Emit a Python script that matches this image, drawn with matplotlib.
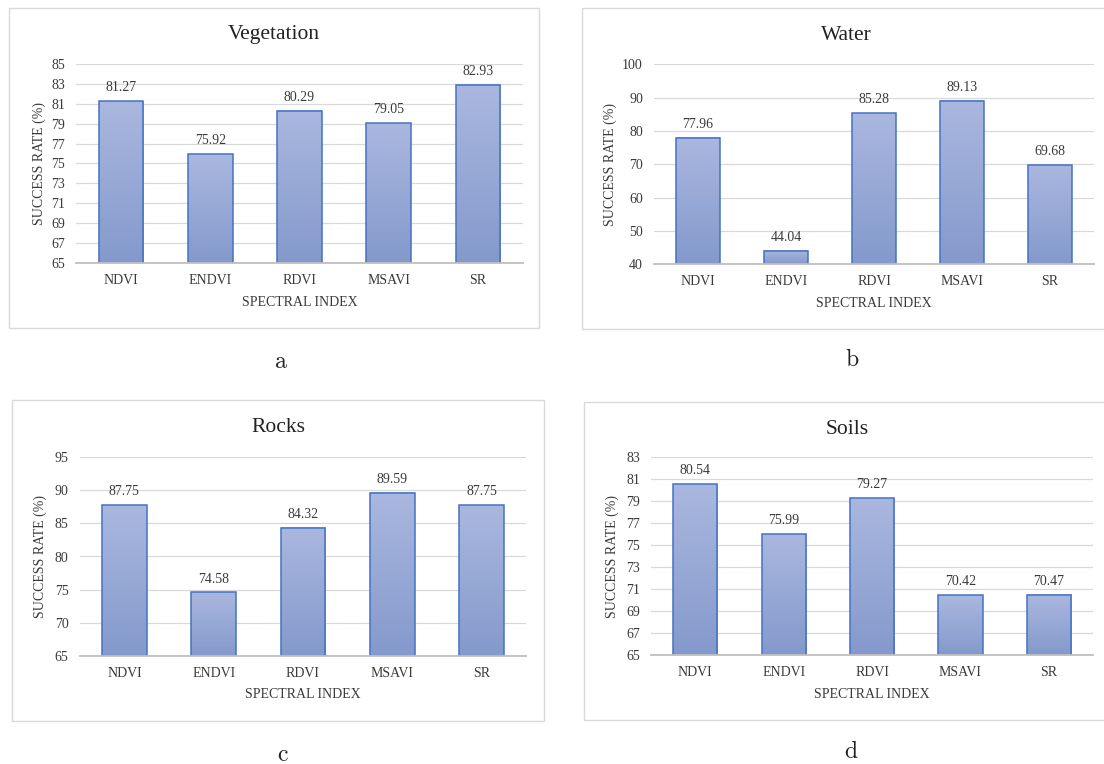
import numpy as np
import matplotlib
matplotlib.use("Agg")
import matplotlib.pyplot as plt
from matplotlib.patches import Rectangle
from matplotlib.colors import LinearSegmentedColormap

# ---- data ----
indices = ["NDVI", "ENDVI", "RDVI", "MSAVI", "SR"]

vegetation = [81.27, 75.92, 80.29, 79.05, 82.93]
water = [77.96, 44.04, 85.28, 89.13, 69.68]
rocks = [87.75, 74.58, 84.32, 89.59, 87.75]
soils = [80.54, 75.99, 79.27, 70.42, 70.47]

titles = ["Vegetation", "Water", "Rocks", "Soils"]
panel_letters = ["a", "b", "c", "d"]

veg_ticks = list(range(65, 86, 2))
water_ticks = list(range(40, 101, 10))
rocks_ticks = list(range(65, 96, 5))
soils_ticks = list(range(65, 84, 2))

x_label = "SPECTRAL INDEX"
y_label = "SUCCESS RATE (%)"

# ---- styling ----
W, H = 1104, 764
SERIF = "Liberation Serif"
TEXT = "#3A3A3A"
GRID = "#D9D9D9"
AXIS = "#BFBFBF"
EDGE = "#4472C4"
FRAME = "#D9D9D9"
SMALL = 10
bar_cmap = LinearSegmentedColormap.from_list("bar", ["#8499CC", "#AAB8DF"])

fig = plt.figure(figsize=(W / 100, H / 100), dpi=100)
fig.patch.set_facecolor("white")


def fx(x):
    return x / W


def fy(y):
    return 1 - y / H


def add_frame(x0, y0, x1, y1):
    fig.patches.append(Rectangle((fx(x0), fy(y1)), fx(x1) - fx(x0), fy(y0) - fy(y1),
                                 transform=fig.transFigure, fill=False,
                                 edgecolor=FRAME, linewidth=1.0, zorder=0))


def panel(box, frame, values, ticks, title, letter, letter_pos, ylab_x):
    left, top, right, bottom = box
    fl, ft, fr, fb = frame
    add_frame(fl, ft, fr, fb)

    ax = fig.add_axes([fx(left), fy(bottom), fx(right) - fx(left), fy(top) - fy(bottom)])
    pos = np.arange(len(indices))
    bars = ax.bar(pos, values, width=0.5, bottom=0, color="none",
                  edgecolor=EDGE, linewidth=1.1, zorder=4)
    ymin, ymax = ticks[0], ticks[-1]
    grad = np.linspace(1, 0, 256).reshape(-1, 1)
    for b in bars:
        x0 = b.get_x()
        w = b.get_width()
        h = b.get_height()
        ax.imshow(grad, extent=[x0, x0 + w, ymin, h], aspect="auto",
                  cmap=bar_cmap, zorder=3, interpolation="bilinear")
        ax.annotate(f"{h:.2f}", (x0 + w / 2, h), xytext=(0, 5),
                    textcoords="offset points", ha="center", va="bottom",
                    fontsize=SMALL, family=SERIF, color=TEXT)

    ax.set_xlim(-0.5, len(indices) - 0.5)
    ax.set_ylim(ymin, ymax)
    ax.set_yticks(ticks)
    ax.set_xticks(pos)
    ax.set_xticklabels(indices)
    ax.yaxis.grid(True, color=GRID, linewidth=0.9)
    ax.set_axisbelow(True)
    for s in ["top", "right", "left"]:
        ax.spines[s].set_visible(False)
    ax.spines["bottom"].set_color(AXIS)
    ax.spines["bottom"].set_linewidth(1.3)
    ax.spines["bottom"].set_zorder(5)
    ax.tick_params(axis="both", length=0, labelsize=SMALL, labelcolor=TEXT)
    ax.tick_params(axis="y", pad=8)
    ax.tick_params(axis="x", pad=8)
    for lab in ax.get_xticklabels() + ax.get_yticklabels():
        lab.set_family(SERIF)

    cx = (left + right) / 2
    fig.text(fx(cx), fy(bottom + 39), x_label, ha="center", va="center",
             fontsize=SMALL, family=SERIF, color=TEXT)
    fig.text(fx(ylab_x), fy((top + bottom) / 2), y_label, ha="center", va="center",
             rotation=90, fontsize=SMALL, family=SERIF, color=TEXT)
    fig.text(fx((fl + fr) / 2), fy(ft + 27), title, ha="center", va="center",
             fontsize=15.5, family=SERIF, color="#222222")
    fig.text(fx(letter_pos[0]), fy(letter_pos[1]), letter, ha="center", va="center",
             fontsize=17, family="cmr10", color="#222222")
    return ax


panel((76.4, 64, 522.6, 263), (9, 8, 539, 328), vegetation, veg_ticks,
      titles[0], panel_letters[0], (281, 362), 39)
panel((654, 64.3, 1094, 264.3), (581.5, 8, 1112, 329), water, water_ticks,
      titles[1], panel_letters[1], (852, 360), 610)
panel((79.7, 457, 526.2, 656), (12, 400, 544, 721), rocks, rocks_ticks,
      titles[2], panel_letters[2], (282, 755), 40)
panel((651, 457, 1093, 655), (583.5, 402, 1110, 720), soils, soils_ticks,
      titles[3], panel_letters[3], (851, 752), 612)

fig.savefig("out.png", dpi=100, facecolor="white")
